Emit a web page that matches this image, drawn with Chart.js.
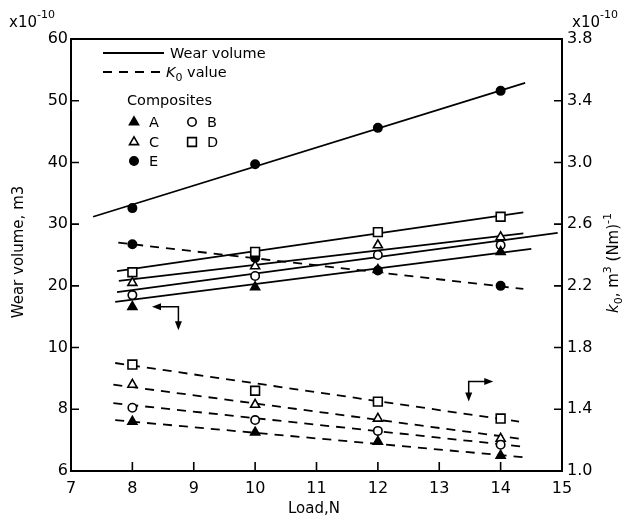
<!DOCTYPE html>
<html>
<head>
<meta charset="utf-8">
<script src="https://cdn.jsdelivr.net/npm/chart.js@4.4.1/dist/chart.umd.min.js"></script>
<style>
  html, body { margin: 0; padding: 0; background: #fff; }
  #wrap { position: relative; width: 625px; height: 520px; }
</style>
</head>
<body>
<div id="wrap"><canvas id="wearChart"></canvas></div>
<script>
const loads = [8, 10, 12, 14];
const loadTicks = [7, 8, 9, 10, 11, 12, 13, 14, 15];
const wearTickLabels = ["6", "8", "10", "20", "30", "40", "50", "60"];
const k0Ticks = [1.0, 1.4, 1.8, 2.2, 2.6, 3.0, 3.4, 3.8];

// wear volume, x10^-10 m3
const wearA = [16.6, 19.8, 22.6, 25.5];
const wearB = [18.5, 21.6, 25.0, 26.6];
const wearC = [20.5, 23.2, 26.6, 27.9];
const wearD = [22.2, 25.5, 28.7, 31.2];
const wearE = [32.6, 39.7, 45.6, 51.6];

// K0, x10^-10 m3 (Nm)-1
const k0A = [1.32, 1.25, 1.19, 1.10];
const k0B = [1.41, 1.33, 1.26, 1.17];
const k0C = [1.56, 1.43, 1.34, 1.21];
const k0D = [1.69, 1.52, 1.45, 1.34];
const k0E = [2.47, 2.38, 2.30, 2.20];

// fitted lines as drawn in the figure: [startLoad, startValue, endLoad, endValue]
const wearFitA = [7.72, 17.4, 14.5, 26.0];
const wearFitB = [7.75, 19.0, 14.93, 28.6];
const wearFitC = [7.78, 20.8, 14.37, 28.5];
const wearFitD = [7.75, 22.4, 14.37, 31.9];
const wearFitE = [7.36, 31.2, 14.4, 52.9];
const k0FitA = [7.72, 1.33, 14.36, 1.09];
const k0FitB = [7.69, 1.44, 14.32, 1.16];
const k0FitC = [7.69, 1.56, 14.3, 1.21];
const k0FitD = [7.72, 1.70, 14.3, 1.32];
const k0FitE = [7.77, 2.48, 14.37, 2.18];

const composites = [
  { name: "A", style: "triangle", fill: "#000", wear: wearA, k0: k0A, wearFit: wearFitA, k0Fit: k0FitA },
  { name: "B", style: "circle", fill: "#fff", wear: wearB, k0: k0B, wearFit: wearFitB, k0Fit: k0FitB },
  { name: "C", style: "triangle", fill: "#fff", wear: wearC, k0: k0C, wearFit: wearFitC, k0Fit: k0FitC },
  { name: "D", style: "rect", fill: "#fff", wear: wearD, k0: k0D, wearFit: wearFitD, k0Fit: k0FitD },
  { name: "E", style: "circle", fill: "#000", wear: wearE, k0: k0E, wearFit: wearFitE, k0Fit: k0FitE }
];

const FONT = '"DejaVu Sans", sans-serif';
const markerRadius = { circle: 4.2, triangle: 5.2, rect: 6.2 };

function pts(ys) { return loads.map((x, i) => ({ x: x, y: ys[i] })); }
function fit(f) { return [{ x: f[0], y: f[1] }, { x: f[2], y: f[3] }]; }

const datasets = [];
composites.forEach(c => {
  datasets.push({
    label: c.name + " wear fit", data: fit(c.wearFit), yAxisID: "yW", showLine: true,
    borderColor: "#000", borderWidth: 1.8, pointRadius: 0, order: 2
  });
  datasets.push({
    label: c.name + " K0 fit", data: fit(c.k0Fit), yAxisID: "yK", showLine: true,
    borderColor: "#000", borderWidth: 1.8, borderDash: [9, 7], pointRadius: 0, order: 2
  });
  [["wear", "yW"], ["k0", "yK"]].forEach(([key, axis]) => {
    datasets.push({
      label: c.name + " " + key, data: pts(c[key]), yAxisID: axis, showLine: false,
      pointStyle: c.style, pointRadius: markerRadius[c.style], pointBackgroundColor: c.fill,
      pointBorderColor: "#000", pointBorderWidth: 1.6, order: 1
    });
  });
});

function drawMarker(ctx, style, fill, x, y) {
  const r = markerRadius[style];
  ctx.beginPath();
  if (style === "circle") {
    ctx.arc(x, y, r, 0, Math.PI * 2);
  } else if (style === "triangle") {
    ctx.moveTo(x, y - r);
    ctx.lineTo(x + r * 0.866, y + r * 0.5);
    ctx.lineTo(x - r * 0.866, y + r * 0.5);
    ctx.closePath();
  } else {
    const s = r * Math.SQRT1_2;
    ctx.rect(x - s, y - s, 2 * s, 2 * s);
  }
  ctx.fillStyle = fill;
  ctx.fill();
  ctx.lineWidth = 1.6;
  ctx.strokeStyle = "#000";
  ctx.stroke();
}

function arrowHead(ctx, x, y, dir) {
  // dir: "left" | "right" | "down"
  ctx.beginPath();
  if (dir === "left") { ctx.moveTo(x, y); ctx.lineTo(x + 9, y - 3.5); ctx.lineTo(x + 9, y + 3.5); }
  if (dir === "right") { ctx.moveTo(x, y); ctx.lineTo(x - 9, y - 3.5); ctx.lineTo(x - 9, y + 3.5); }
  if (dir === "down") { ctx.moveTo(x, y); ctx.lineTo(x - 3.5, y - 9); ctx.lineTo(x + 3.5, y - 9); }
  ctx.closePath();
  ctx.fill();
}

// text with sub/superscript pieces: [text, size, dy, italic]
function richText(ctx, parts, x, y) {
  let cx = x;
  parts.forEach(p => {
    ctx.font = (p[3] ? "italic " : "") + p[1] + "px " + FONT;
    ctx.fillText(p[0], cx, y + p[2]);
    cx += ctx.measureText(p[0]).width;
  });
  return cx - x;
}
function richWidth(ctx, parts) {
  let w = 0;
  parts.forEach(p => {
    ctx.font = (p[3] ? "italic " : "") + p[1] + "px " + FONT;
    w += ctx.measureText(p[0]).width;
  });
  return w;
}

const figureDecor = {
  id: "figureDecor",
  afterDraw(chart) {
    const ctx = chart.ctx;
    const a = chart.chartArea;
    const sx = chart.scales.x, sw = chart.scales.yW, sk = chart.scales.yK;
    ctx.save();
    ctx.strokeStyle = "#000";
    ctx.fillStyle = "#000";
    ctx.textBaseline = "alphabetic";
    ctx.textAlign = "left";

    // frame
    ctx.lineWidth = 2;
    ctx.strokeRect(a.left, a.top, a.right - a.left, a.bottom - a.top);

    // inward tick marks
    ctx.lineWidth = 1.6;
    ctx.beginPath();
    sx.ticks.slice(1, -1).forEach(t => {
      const px = sx.getPixelForValue(t.value);
      ctx.moveTo(px, a.bottom); ctx.lineTo(px, a.bottom - 9);
    });
    sw.ticks.slice(1, -1).forEach(t => {
      const py = sw.getPixelForValue(t.value);
      ctx.moveTo(a.left, py); ctx.lineTo(a.left + 8, py);
    });
    sk.ticks.slice(1, -1).forEach(t => {
      const py = sk.getPixelForValue(t.value);
      ctx.moveTo(a.right, py); ctx.lineTo(a.right - 8, py);
    });
    ctx.stroke();

    // exponent labels
    richText(ctx, [["x10", 15, 0], ["-10", 11, -9]], 9, 27);
    richText(ctx, [["x10", 15, 0], ["-10", 11, -9]], 572, 27);

    // axis titles
    ctx.font = "15px " + FONT;
    ctx.textAlign = "center";
    ctx.fillText("Load,N", 314, 513);
    ctx.save();
    ctx.translate(23, 252);
    ctx.rotate(-Math.PI / 2);
    ctx.fillText("Wear volume, m3", 0, 0);
    ctx.restore();

    ctx.textAlign = "left";
    const kParts = [["k", 15, 0, true], ["0", 11, 4], [", m", 15, 0], ["3", 11, -7], [" (Nm)", 15, 0], ["-1", 11, -7]];
    ctx.save();
    ctx.translate(618, 263);
    ctx.rotate(-Math.PI / 2);
    richText(ctx, kParts, -richWidth(ctx, kParts) / 2, 0);
    ctx.restore();

    // legend
    ctx.lineWidth = 1.8;
    ctx.beginPath();
    ctx.moveTo(103, 53); ctx.lineTo(164, 53);
    ctx.stroke();
    ctx.setLineDash([9, 7]);
    ctx.beginPath();
    ctx.moveTo(103, 72); ctx.lineTo(161, 72);
    ctx.stroke();
    ctx.setLineDash([]);
    ctx.fillStyle = "#000";
    ctx.font = "14.5px " + FONT;
    ctx.fillText("Wear volume", 170, 58);
    richText(ctx, [["K", 14.5, 0, true], ["0", 11, 4], [" value", 14.5, 0]], 166, 77);
    ctx.font = "14.5px " + FONT;
    ctx.fillText("Composites", 127, 105);
    const slots = [[134, 122], [192, 122], [134, 142], [192, 142], [134, 161]];
    composites.forEach((c, i) => {
      const [mx, my] = slots[i];
      drawMarker(ctx, c.style, c.fill, mx, my);
      ctx.fillStyle = "#000";
      ctx.font = "14.5px " + FONT;
      ctx.fillText(c.name, mx + 15, my + 5);
    });

    // arrows pointing each family of lines to its axis
    ctx.fillStyle = "#000";
    ctx.lineWidth = 1.5;
    let cx = sx.getPixelForValue(8.75), cy = sw.getPixelForValue(16.6);
    let lx = sx.getPixelForValue(8.32), by = sw.getPixelForValue(12.8);
    ctx.beginPath();
    ctx.moveTo(lx + 6, cy); ctx.lineTo(cx, cy); ctx.lineTo(cx, by - 6);
    ctx.stroke();
    arrowHead(ctx, lx, cy, "left");
    arrowHead(ctx, cx, by, "down");

    cx = sx.getPixelForValue(13.48); cy = sk.getPixelForValue(1.58);
    const rx = sx.getPixelForValue(13.88);
    by = sk.getPixelForValue(1.45);
    ctx.beginPath();
    ctx.moveTo(rx - 6, cy); ctx.lineTo(cx, cy); ctx.lineTo(cx, by - 6);
    ctx.stroke();
    arrowHead(ctx, rx, cy, "right");
    arrowHead(ctx, cx, by, "down");

    ctx.restore();
  }
};

const tickFont = { family: FONT, size: 16 };

new Chart(document.getElementById("wearChart").getContext("2d"), {
  type: "scatter",
  data: { datasets: datasets },
  options: {
    responsive: true,
    maintainAspectRatio: false,
    animation: false,
    layout: { padding: { top: 39, left: 0, right: 0, bottom: 0 } },
    plugins: { legend: { display: false }, tooltip: { enabled: false } },
    scales: {
      x: {
        type: "linear", min: 7, max: 15,
        grid: { display: false, drawTicks: false }, border: { display: false },
        afterBuildTicks: s => { s.ticks = loadTicks.map(v => ({ value: v })); },
        afterFit: s => { s.height = 49; },
        ticks: { color: "#000", font: tickFont, padding: 8, autoSkip: false, maxRotation: 0,
                 callback: v => String(v) }
      },
      yW: {
        type: "linear", position: "left", min: -10, max: 60,
        grid: { display: false, drawTicks: false }, border: { display: false },
        afterBuildTicks: s => { s.ticks = wearTickLabels.map((_, i) => ({ value: -10 + 10 * i })); },
        afterFit: s => { s.width = 71; },
        ticks: { color: "#000", font: tickFont, padding: 3, autoSkip: false,
                 callback: (v, i) => wearTickLabels[i] }
      },
      yK: {
        type: "linear", position: "right", min: 1.0, max: 3.8,
        grid: { display: false, drawTicks: false }, border: { display: false },
        afterBuildTicks: s => { s.ticks = k0Ticks.map(v => ({ value: v })); },
        afterFit: s => { s.width = 63; },
        ticks: { color: "#000", font: tickFont, padding: 5, autoSkip: false,
                 callback: v => v.toFixed(1) }
      }
    }
  },
  plugins: [figureDecor]
});
</script>
</body>
</html>
